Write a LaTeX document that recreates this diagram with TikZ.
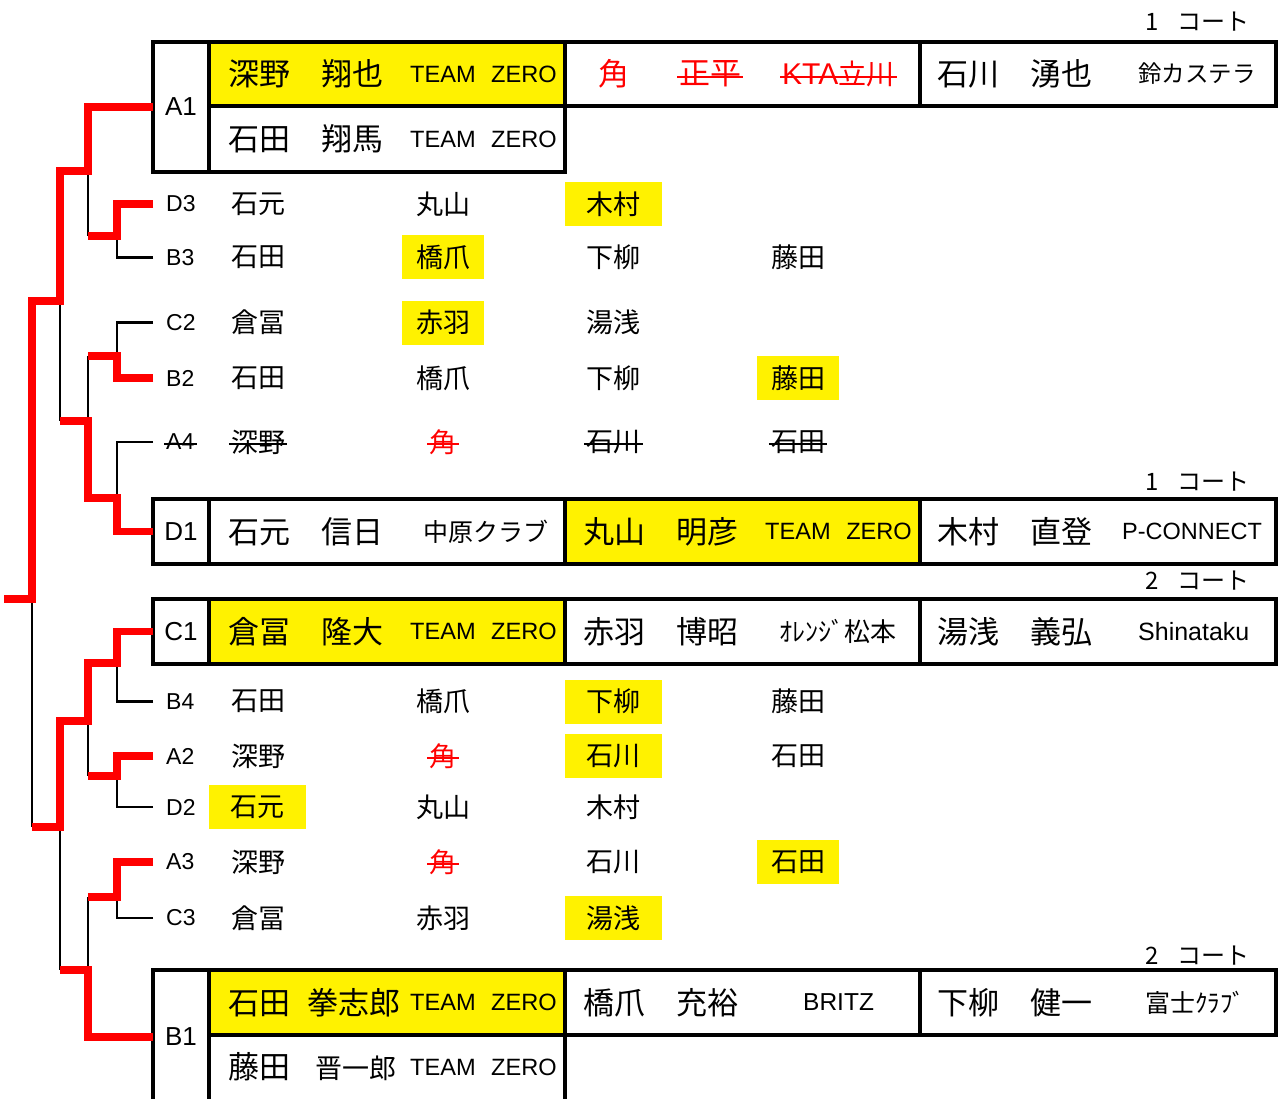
\documentclass[tikz,border=0pt]{standalone}
\usepackage{fontspec}
\setmainfont{Noto Sans CJK JP}
\newfontfamily\lat{Liberation Sans}
\newcommand\fs[1]{\fontsize{#1pt}{#1pt}\selectfont}
\begin{document}
\begin{tikzpicture}[x=1pt,y=-1pt,
  frame/.style={line width=3.3pt},
  win/.style={draw=red,line width=7.5pt,line join=miter},
  lose/.style={draw=black,line width=2.5pt},
  cellL/.style={draw,line width=3.3pt,inner sep=0pt,outer sep=0pt,minimum width=56pt,font=\lat\fs{26}},
  tx/.style={inner sep=0pt,anchor=west},
  big/.style={tx,font=\fs{31}},
  team/.style={tx,font=\lat\fs{23.6}},
  lbl/.style={tx,font=\lat\fs{23}},
  nm/.style={inner sep=0pt,font=\fs{27}},
  hlw/.style={fill=yellow,minimum width=97pt,minimum height=44pt},
  hln/.style={fill=yellow,minimum width=82pt,minimum height=44pt},
  court/.style={inner sep=0pt,anchor=east,font=\fs{24}},
  strike/.style={line width=2pt,shorten <=-2pt,shorten >=-2pt},
]
\useasboundingbox[fill=white] (0,0) rectangle (1279,1099);

% ---------- court labels
\node[court] (ct1) at (1250,22) {1\hspace{19pt}コート};
\node[court] (ct2) at (1250,482) {1\hspace{19pt}コート};
\node[court] (ct3) at (1250,581) {2\hspace{19pt}コート};
\node[court] (ct4) at (1250,956) {2\hspace{19pt}コート};

% ---------- A1 box
\fill[yellow] (209,42) rectangle (565,106);
\node[cellL,minimum height=130pt] (A1) at (181,107) {A1};
\draw[frame] (209,42) rectangle (1276,106);
\draw[frame] (209,106) rectangle (565,172);
\draw[frame] (565,42) -- (565,106) (920,42) -- (920,106);
\node[big] (a1n1) at (228,74) {深野　翔也};
\node[team] (a1t1) at (410,74) {TEAM\hspace{15.5pt}ZERO};
\node[big,text=red] (a1k) at (598,74) {角};
\node[big,text=red] (a1s) at (679,74) {正平};
\node[tx,text=red] (a1c) at (782,74) {{\lat\fs{30}KTA}{\fs{28}立川}};
\draw[strike,red] ([yshift=-3pt]a1s.west) -- ([yshift=-3pt]a1s.east);
\draw[strike,red] ([yshift=-3pt]a1c.west) -- ([yshift=-3pt]a1c.east);
\node[big] (a1n3) at (937,74) {石川　湧也};
\node[tx,font=\fs{23.5}] (a1c3) at (1138,74) {鈴カステラ};
\node[big] (a1n2) at (228,139) {石田　翔馬};
\node[team] (a1t2) at (410,139) {TEAM\hspace{15.5pt}ZERO};

% ---------- D1 box
\fill[yellow] (565,499) rectangle (920,564);
\node[cellL,minimum height=65pt] (D1) at (181,531.5) {D1};
\draw[frame] (209,499) rectangle (1276,564);
\draw[frame] (565,499) -- (565,564) (920,499) -- (920,564);
\node[big] (d1n1) at (228,531.5) {石元　信日};
\node[tx,font=\fs{25}] (d1c1) at (423,531.5) {中原クラブ};
\node[big] (d1n2) at (583,531.5) {丸山　明彦};
\node[team] (d1t2) at (765,531.5) {TEAM\hspace{15.5pt}ZERO};
\node[big] (d1n3) at (937,531.5) {木村　直登};
\node[tx,font=\lat\fs{23.5}] (d1c3) at (1122,531.5) {P-CONNECT};

% ---------- C1 box
\fill[yellow] (209,599) rectangle (565,664);
\node[cellL,minimum height=65pt] (C1) at (181,631.5) {C1};
\draw[frame] (209,599) rectangle (1276,664);
\draw[frame] (565,599) -- (565,664) (920,599) -- (920,664);
\node[big] (c1n1) at (228,631.5) {倉冨　隆大};
\node[team] (c1t1) at (410,631.5) {TEAM\hspace{15.5pt}ZERO};
\node[big] (c1n2) at (583,631.5) {赤羽　博昭};
\node[tx,font=\fs{26}] (c1c2) at (779,631.5) {ｵﾚﾝｼﾞ松本};
\node[big] (c1n3) at (937,631.5) {湯浅　義弘};
\node[tx,font=\lat\fs{25}] (c1c3) at (1138,631.5) {Shinataku};

% ---------- B1 box
\fill[yellow] (209,970) rectangle (565,1035);
\node[cellL,minimum height=134pt] (B1) at (181,1037) {B1};
\draw[frame] (209,970) rectangle (1276,1035);
\draw[frame] (565,970) -- (565,1104) (920,970) -- (920,1035);
\node[big] (b1n1) at (228,1002.5) {石田\hspace{17pt}拳志郎};
\node[team] (b1t1) at (410,1002.5) {TEAM\hspace{15.5pt}ZERO};
\node[big] (b1n2) at (583,1002.5) {橋爪　充裕};
\node[tx,font=\lat\fs{24.5}] (b1c2) at (803,1002.5) {BRITZ};
\node[big] (b1n3) at (937,1002.5) {下柳　健一};
\node[tx,font=\fs{25}] (b1c3) at (1145,1002.5) {富士ｸﾗﾌﾞ};
\node[big] (b1n4) at (228,1067) {藤田{\fs{27}\hspace{25pt}晋一郎}};
\node[team] (b1t2) at (410,1067) {TEAM\hspace{15.5pt}ZERO};

% ---------- small rows (top half)
\node[lbl] (D3) at (166,204) {D3};
\node[nm] (d3a) at (258,204) {石元};
\node[nm] (d3b) at (443,204) {丸山};
\node[nm,hlw] (d3c) at (613.5,204) {木村};

\node[lbl] (B3) at (166,257.5) {B3};
\node[nm] (b3a) at (258,257.5) {石田};
\node[nm,hln] (b3b) at (443,257.5) {橋爪};
\node[nm] (b3c) at (613.5,257.5) {下柳};
\node[nm] (b3d) at (798,257.5) {藤田};

\node[lbl] (C2) at (166,322.5) {C2};
\node[nm] (c2a) at (258,322.5) {倉冨};
\node[nm,hln] (c2b) at (443,322.5) {赤羽};
\node[nm] (c2c) at (613.5,322.5) {湯浅};

\node[lbl] (B2) at (166,378) {B2};
\node[nm] (b2a) at (258,378) {石田};
\node[nm] (b2b) at (443,378) {橋爪};
\node[nm] (b2c) at (613.5,378) {下柳};
\node[nm,hln] (b2d) at (798,378) {藤田};

\node[lbl] (A4) at (166,442) {A4};
\node[nm] (a4a) at (258,442) {深野};
\node[nm,text=red] (a4b) at (443,442) {角};
\node[nm] (a4c) at (613.5,442) {石川};
\node[nm] (a4d) at (798,442) {石田};
\draw[strike] ([yshift=-2pt]A4.west) -- ([yshift=-2pt]A4.east);
\draw[strike] ([yshift=-2pt]a4a.west) -- ([yshift=-2pt]a4a.east);
\draw[strike,red] ([yshift=-2pt]a4b.west) -- ([yshift=-2pt]a4b.east);
\draw[strike] ([yshift=-2pt]a4c.west) -- ([yshift=-2pt]a4c.east);
\draw[strike] ([yshift=-2pt]a4d.west) -- ([yshift=-2pt]a4d.east);

% ---------- small rows (bottom half)
\node[lbl] (B4) at (166,701.5) {B4};
\node[nm] (b4a) at (258,701.5) {石田};
\node[nm] (b4b) at (443,701.5) {橋爪};
\node[nm,hlw] (b4c) at (613.5,701.5) {下柳};
\node[nm] (b4d) at (798,701.5) {藤田};

\node[lbl] (A2) at (166,756) {A2};
\node[nm] (a2a) at (258,756) {深野};
\node[nm,text=red] (a2b) at (443,756) {角};
\node[nm,hlw] (a2c) at (613.5,756) {石川};
\node[nm] (a2d) at (798,756) {石田};
\draw[strike,red] ([yshift=-2pt]a2b.west) -- ([yshift=-2pt]a2b.east);

\node[lbl] (D2) at (166,807) {D2};
\node[nm,hlw] (d2a) at (257.5,807) {石元};
\node[nm] (d2b) at (443,807) {丸山};
\node[nm] (d2c) at (613.5,807) {木村};

\node[lbl] (A3) at (166,862) {A3};
\node[nm] (a3a) at (258,862) {深野};
\node[nm,text=red] (a3b) at (443,862) {角};
\node[nm] (a3c) at (613.5,862) {石川};
\node[nm,hln] (a3d) at (798,862) {石田};
\draw[strike,red] ([yshift=-2pt]a3b.west) -- ([yshift=-2pt]a3b.east);

\node[lbl] (C3) at (166,918) {C3};
\node[nm] (c3a) at (258,918) {倉冨};
\node[nm] (c3b) at (443,918) {赤羽};
\node[nm,hlw] (c3c) at (613.5,918) {湯浅};

% ---------- bracket: losing (black) lines
\draw[lose] ([xshift=-13pt]B3.west) -| (117,236);
\draw[lose] (88,171) -- (88,236);
\draw[lose] ([xshift=-13pt]C2.west) -| (117,356);
\draw[lose] (88,356) -- (88,421);
\draw[lose] (60,301) -- (60,421);
\draw[lose] ([xshift=-13pt]A4.west) -| (117,498);
\draw[lose] (32,599) -- (32,827);
\draw[lose] ([xshift=-13pt]B4.west) -| (117,663);
\draw[lose] (88,721) -- (88,776);
\draw[lose] ([xshift=-13pt]D2.west) -| (117,776);
\draw[lose] (60,827) -- (60,970);
\draw[lose] ([xshift=-13pt]C3.west) -| (117,897);
\draw[lose] (88,897) -- (88,970);

% ---------- bracket: winning (red) lines
\coordinate (champ) at (4,599);
\draw[win] (A1.west) -| (88,171) -- (60,171) -- (60,301) -- (32,301) -- (32,599) -- (champ);
\draw[win] ([xshift=-13pt]D3.west) -| (117,236) -- (88,236);
\draw[win] ([xshift=-13pt]B2.west) -| (117,356) -- (88,356);
\draw[win] (D1.west) -| (117,498) -- (88,498) -- (88,421) -- (60,421);
\draw[win] (C1.west) -| (117,663) -- (88,663) -- (88,721) -- (60,721) -- (60,827) -- (32,827);
\draw[win] ([xshift=-13pt]A2.west) -| (117,776) -- (88,776);
\draw[win] ([xshift=-13pt]A3.west) -| (117,897) -- (88,897);
\draw[win] (B1.west) -| (88,970) -- (60,970);
\end{tikzpicture}
\end{document}
